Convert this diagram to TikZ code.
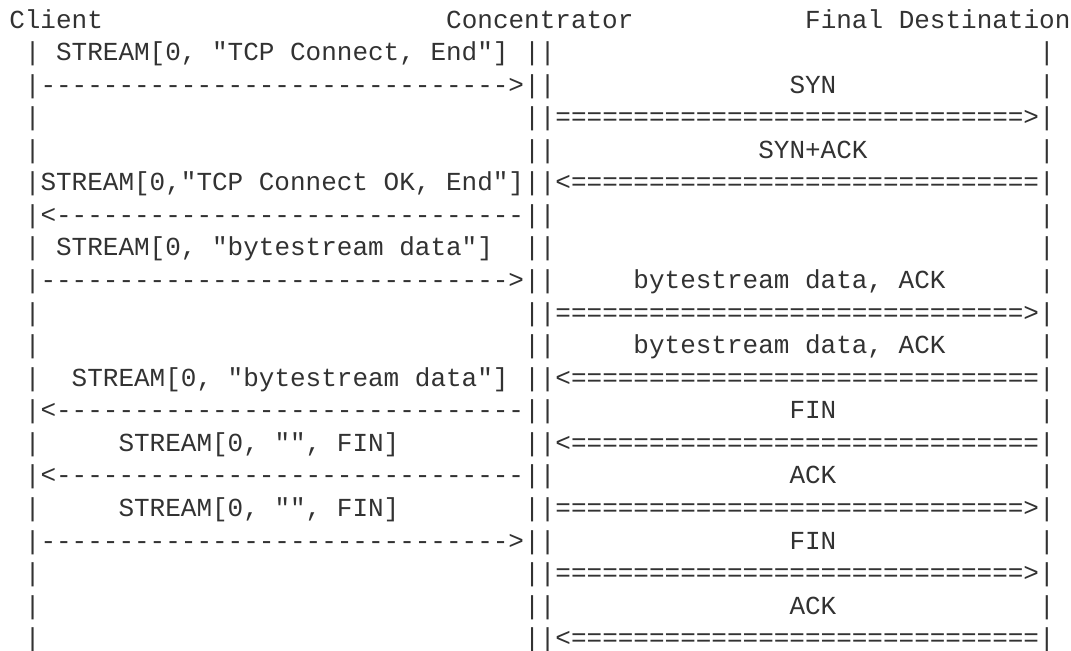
\documentclass[tikz,border=0pt]{standalone}
\usepackage{fontspec}
\setmonofont{Liberation Mono}[WordSpace={1,0,0}]
\definecolor{ink}{RGB}{50,50,50}
\tikzset{asc/.style={anchor=base west, inner sep=0pt, outer sep=0pt, text=ink,
  font=\ttfamily\fontsize{19.5pt}{24pt}\selectfont}}
% #1 column, #2 row, #3 node name, #4 text
\newcommand\T[4]{\node[asc] (#3) at ({9.29+15.605*#1},{28+32.57*(#2-1)}) {#4};}
\newcommand\ArrR{------------------------------>}
\newcommand\ArrL{<------------------------------}
\newcommand\DArrR{==============================>}
\newcommand\DArrL{<==============================}
\begin{document}
\begin{tikzpicture}[x=0.75pt,y=-0.75pt]
\useasboundingbox (0,0) rectangle (1071,650);
% header
\T{0}{1}{client}{Client}
\T{28}{1}{conc}{Concentrator}
\T{51}{1}{dest}{Final Destination}
% lifelines (as printed characters)
\foreach \r in {2,...,20} {
  \T{1}{\r}{la\r}{|}
  \T{33}{\r}{ca\r}{|}
  \T{34}{\r}{cb\r}{|}
  \T{66}{\r}{fd\r}{|}
}
% left side (client <-> concentrator)
\T{3}{2}{m2}{STREAM[0, "TCP Connect, End"]}
\T{2}{3}{a3}{\ArrR}
\T{2}{6}{m6}{STREAM[0,"TCP Connect OK, End"]}
\T{2}{7}{a7}{\ArrL}
\T{3}{8}{m8}{STREAM[0, "bytestream data"]}
\T{2}{9}{a9}{\ArrR}
\T{4}{12}{m12}{STREAM[0, "bytestream data"]}
\T{2}{13}{a13}{\ArrL}
\T{7}{14}{m14}{STREAM[0, "", FIN]}
\T{2}{15}{a15}{\ArrL}
\T{7}{16}{m16}{STREAM[0, "", FIN]}
\T{2}{17}{a17}{\ArrR}
% right side (concentrator <-> final destination)
\T{50}{3}{r3}{SYN}
\T{35}{4}{b4}{\DArrR}
\T{48}{5}{r5}{SYN+ACK}
\T{35}{6}{b6}{\DArrL}
\T{40}{9}{r9}{bytestream data, ACK}
\T{35}{10}{b10}{\DArrR}
\T{40}{11}{r11}{bytestream data, ACK}
\T{35}{12}{b12}{\DArrL}
\T{50}{13}{r13}{FIN}
\T{35}{14}{b14}{\DArrL}
\T{50}{15}{r15}{ACK}
\T{35}{16}{b16}{\DArrR}
\T{50}{17}{r17}{FIN}
\T{35}{18}{b18}{\DArrR}
\T{50}{19}{r19}{ACK}
\T{35}{20}{b20}{\DArrL}
\end{tikzpicture}
\end{document}
